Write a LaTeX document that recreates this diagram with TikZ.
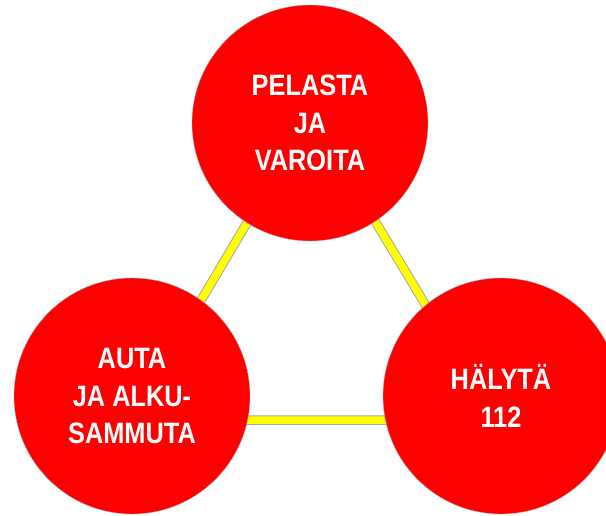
\documentclass[tikz,border=0pt]{standalone}
\usepackage{fontspec}
\setmainfont[FakeStretch=0.86]{Liberation Sans}
\definecolor{redfill}{HTML}{FF0000}
\definecolor{yellowline}{HTML}{FFFF00}
\begin{document}
\begin{tikzpicture}[x=1pt,y=-1pt,
  bubble/.style={circle,fill=redfill,draw=gray!60,line width=0.4pt,minimum size=236pt,inner sep=0pt,
    text=white,font=\fontsize{29.5}{37.5}\selectfont\bfseries,align=center},
  linkouter/.style={draw=gray!70,line width=9.5pt,line join=miter},
  linkinner/.style={draw=yellowline,line width=7.5pt,line join=miter}]
\useasboundingbox (0,0) rectangle (606,515);
\coordinate (tA) at (311,115);
\coordinate (tB) at (130,420);
\coordinate (tC) at (495,420);
\draw[linkouter] (tA) -- (tB) -- (tC) -- cycle;
\draw[linkinner] (tA) -- (tB) -- (tC) -- cycle;
\node[bubble] (top) at (310,123) {PELASTA\\JA\\VAROITA};
\node[bubble] (left) at (132,396) {AUTA\\JA ALKU-\\SAMMUTA};
\node[bubble] (right) at (501,396) {HÄLYTÄ\\112};
\end{tikzpicture}
\end{document}
